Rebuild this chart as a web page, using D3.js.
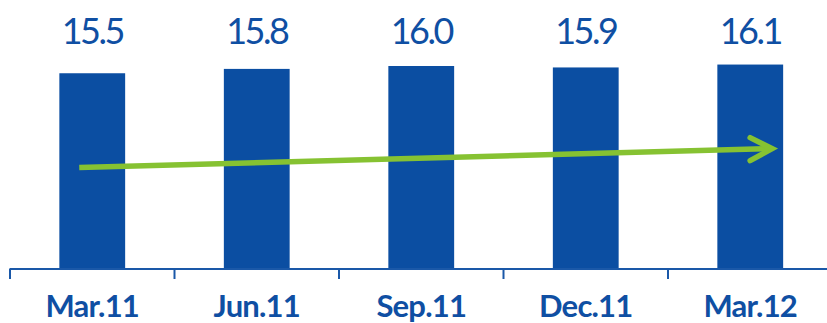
<!DOCTYPE html>
<html><head><meta charset="utf-8">
<script src="https://cdn.jsdelivr.net/npm/d3@7"></script>
<style>html,body{margin:0;padding:0;background:#fff;overflow:hidden}</style>
</head><body>
<svg id="c" width="827" height="323"></svg>
<script>
const categories = ["Mar.11", "Jun.11", "Sep.11", "Dec.11", "Mar.12"];
const values = [15.5, 15.8, 16.0, 15.9, 16.1];
const valueLabels = ["15.5", "15.8", "16.0", "15.9", "16.1"];
const trendValues = [9.0, 10.3];

const blue = "#0b4ea2", textBlue = "#0f4fa3", green = "#86c232";
const svg = d3.select("#c");
const W = 827, H = 323, baseY = 269;

const x = d3.scaleBand().domain(categories).range([10, 832.5]).padding(0);
const y = d3.scaleLinear().domain([2, 17]).range([baseY, baseY - 15 * 14.5]);
const bw = x.bandwidth() * 0.4;

svg.selectAll("rect.bar").data(categories).join("rect")
  .attr("class", "bar")
  .attr("x", c => x(c) + (x.bandwidth() - bw) / 2)
  .attr("width", bw)
  .attr("y", (c, i) => y(values[i]))
  .attr("height", (c, i) => baseY - y(values[i]))
  .attr("fill", blue);

// axis line and ticks at band boundaries
svg.append("line").attr("x1", x.range()[0] - 0.5).attr("x2", W)
  .attr("y1", baseY).attr("y2", baseY)
  .attr("stroke", "#1a58a8").attr("stroke-width", 2);
svg.selectAll("line.tick").data(categories).join("line")
  .attr("class", "tick")
  .attr("x1", c => x(c)).attr("x2", c => x(c))
  .attr("y1", baseY).attr("y2", baseY + 10)
  .attr("stroke", "#1a58a8").attr("stroke-width", 2);

// value labels
svg.selectAll("text.val").data(categories).join("text")
  .attr("class", "val")
  .attr("x", c => x(c) + x.bandwidth() / 2)
  .attr("y", 44)
  .attr("text-anchor", "middle")
  .attr("fill", textBlue)
  .style("font-family", "Lato, 'Open Sans', sans-serif")
  .style("font-size", "36px")
  .style("letter-spacing", "-2.5px")
  .text((c, i) => valueLabels[i]);

// category labels
svg.selectAll("text.cat").data(categories).join("text")
  .attr("class", "cat")
  .attr("x", c => x(c) + x.bandwidth() / 2)
  .attr("y", 317)
  .attr("text-anchor", "middle")
  .attr("fill", textBlue)
  .style("font-family", "Lato, 'Open Sans', sans-serif")
  .style("font-weight", "bold")
  .style("font-size", "31px")
  .style("letter-spacing", "-0.8px")
  .text(c => c);

// trend arrow
const x0 = x(categories[0]) + x.bandwidth() / 2 - 13;
const last = categories[categories.length - 1];
const x1 = x(last) + x.bandwidth() / 2 + bw / 2 - 11;
const y0 = y(trendValues[0]), y1 = y(trendValues[1]);
svg.append("line").attr("x1", x0).attr("y1", y0).attr("x2", x1 - 3).attr("y2", y1)
  .attr("stroke", green).attr("stroke-width", 5.5);
svg.append("path")
  .attr("d", d3.line()([[x1 - 22, y1 - 11], [x1, y1], [x1 - 22, y1 + 12]]))
  .attr("fill", "none").attr("stroke", green).attr("stroke-width", 5.5)
  .attr("stroke-linecap", "round").attr("stroke-linejoin", "miter");
</script>
</body></html>
